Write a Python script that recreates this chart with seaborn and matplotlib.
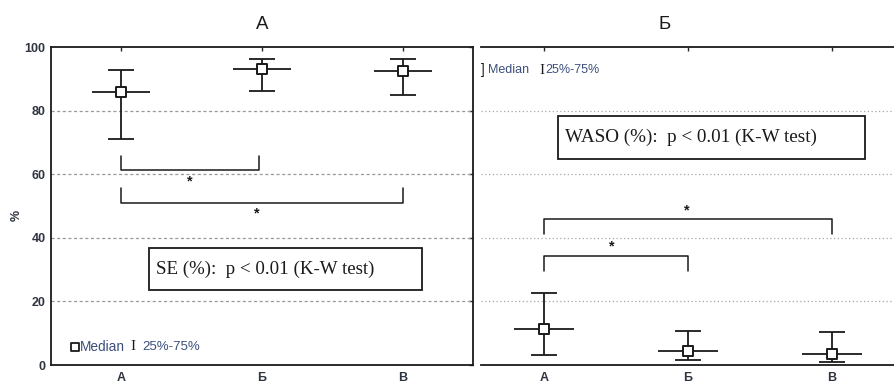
import numpy as np
import pandas as pd
import matplotlib
matplotlib.use("Agg")
import matplotlib.pyplot as plt
from matplotlib.patches import Rectangle
import seaborn as sns

# Groups and per-panel summary statistics (median with 25%-75% quartiles)
groups = ["А", "Б", "В"]
panel_titles = ["А", "Б"]

se_median = [85.8, 93.1, 92.5]
se_q25 = [71.1, 86.2, 84.9]
se_q75 = [92.8, 96.2, 96.2]

waso_median = [11.3, 4.4, 3.5]
waso_q25 = [3.1, 1.6, 0.9]
waso_q75 = [22.6, 10.7, 10.4]

y_ticks = [0, 20, 40, 60, 80, 100]
se_note = "SE (%):  p < 0.01 (K-W test)"
waso_note = "WASO (%):  p < 0.01 (K-W test)"

sns.set_style("white")
plt.rcParams["font.family"] = ["Liberation Sans", "DejaVu Sans"]

W, H, DPI = 894, 385, 100
fig = plt.figure(figsize=(W / DPI, H / DPI), dpi=DPI)

ax1 = fig.add_axes([51 / W, 20 / H, 422 / W, 318 / H])
ax2 = fig.add_axes([481 / W, 20 / H, 413 / W, 318 / H])

INK = "#1a1a1a"
LABEL = "#2e3440"
LEG = "#3b4e7c"
LW = 1.3


def draw_panel(ax, med, q25, q75):
    df = pd.DataFrame({"pos": np.arange(len(groups)), "group": groups,
                       "median": med, "q25": q25, "q75": q75})
    # quartile whiskers
    ax.errorbar(df["pos"], df["median"],
                yerr=[df["median"] - df["q25"], df["q75"] - df["median"]],
                fmt="none", ecolor=INK, elinewidth=LW, capsize=9.5,
                capthick=LW, zorder=3)
    # horizontal bar through the median
    ax.errorbar(df["pos"], df["median"], xerr=0.205, fmt="none",
                ecolor=INK, elinewidth=LW, capsize=0, zorder=3)
    sns.scatterplot(data=df, x="pos", y="median", ax=ax, marker="s",
                    s=55, color="white", edgecolor=INK, linewidth=1.4,
                    zorder=4, legend=False)


def bracket(ax, x0, x1, y, tip, star_x, star_y):
    ax.plot([x0, x0, x1, x1], [y + tip, y, y, y + tip], color=INK,
            lw=1.1, zorder=3)
    ax.text(star_x, star_y, "*", ha="center", va="center",
            fontsize=10.5, color=INK, fontweight="bold")


draw_panel(ax1, se_median, se_q25, se_q75)
draw_panel(ax2, waso_median, waso_q25, waso_q75)

for ax in (ax1, ax2):
    ax.set_ylim(0, 100)
    ax.set_xticks(range(len(groups)))
    ax.set_xticklabels(groups)
    ax.set_xlabel("")
    ax.set_ylabel("")
    ax.tick_params(direction="in", top=True, length=3, width=1,
                   labelsize=9, labelcolor=LABEL, pad=5)
    for lab in ax.get_xticklabels() + ax.get_yticklabels():
        lab.set_fontweight("bold")
    for sp in ax.spines.values():
        sp.set_color(INK)
        sp.set_linewidth(1.3)

# left panel
ax1.set_xlim(-0.5, 2.5)
ax1.set_yticks(y_ticks)
ax1.tick_params(axis="y", right=True, labelsize=9, pad=4)
for v in y_ticks[1:-1]:
    ax1.axhline(v, color="#9a9a9a", lw=0.9, ls=(0, (2.5, 2)), zorder=1)
ax1.set_title(panel_titles[0], fontsize=13.5, pad=13, color=INK)

# right panel
ax2.set_xlim(-0.4375, -0.4375 + 413 / 144)
ax2.set_yticks(y_ticks)
ax2.tick_params(axis="y", left=False, right=False, labelleft=False)
ax2.spines["left"].set_visible(False)
ax2.spines["right"].set_visible(False)
for v in y_ticks[1:-1]:
    ax2.axhline(v, color="#a5a5a5", lw=0.9, ls=(0, (1, 2)), zorder=1)
ax2.set_title(panel_titles[1], fontsize=13.5, pad=13, color=INK,
              x=(665 - 481) / 413)

fig.text(17 / W, 1 - 215 / H, "%", rotation=90, ha="center", va="center",
         fontsize=9, fontweight="bold", color=LABEL)

# significance brackets
bracket(ax1, 0.0, 0.98, 61.3, 4.4, 0.49, 57.8)
bracket(ax1, 0.0, 2.0, 51.0, 4.6, 0.96, 47.6)
bracket(ax2, 0.0, 2.0, 45.9, -4.7, 0.99, 48.6)
bracket(ax2, 0.0, 1.0, 34.3, -4.7, 0.47, 37.2)

# test result boxes
ax1.add_patch(Rectangle((0.2, 23.6), 1.94, 13.2, fill=False, ec=INK,
                        lw=1.3, zorder=3))
ax1.text(0.25, 30.2, se_note, ha="left", va="center", fontsize=13.6,
         family="Liberation Serif", color=INK)
ax2.add_patch(Rectangle((0.097, 64.8), 2.133, 13.5, fill=False, ec=INK,
                        lw=1.3, zorder=3))
ax2.text(0.146, 71.5, waso_note, ha="left", va="center", fontsize=13.8,
         family="Liberation Serif", color=INK)

# key: median marker and quartile range
ax1.scatter([-0.33], [5.8], marker="s", s=32, facecolor="white",
            edgecolor=INK, linewidth=1.3, zorder=4, clip_on=False)
ax1.text(-0.295, 5.8, "Median", ha="left", va="center", fontsize=9.8,
         color=LEG)
ax1.text(0.085, 5.8, "I", ha="center", va="center", fontsize=11,
         family="Liberation Serif", color=INK)
ax1.text(0.15, 5.8, "25%-75%", ha="left", va="center", fontsize=9.5,
         color=LEG)

ax2.text(-0.435, 92.7, "]", ha="left", va="center", fontsize=10,
         color=INK)
ax2.text(-0.39, 92.7, "Median", ha="left", va="center", fontsize=9,
         color=LEG)
ax2.text(-0.015, 92.7, "I", ha="center", va="center", fontsize=11,
         family="Liberation Serif", color=INK)
ax2.text(0.012, 92.7, "25%-75%", ha="left", va="center", fontsize=9,
         color=LEG)

fig.savefig("out.png", dpi=DPI, facecolor="white")
